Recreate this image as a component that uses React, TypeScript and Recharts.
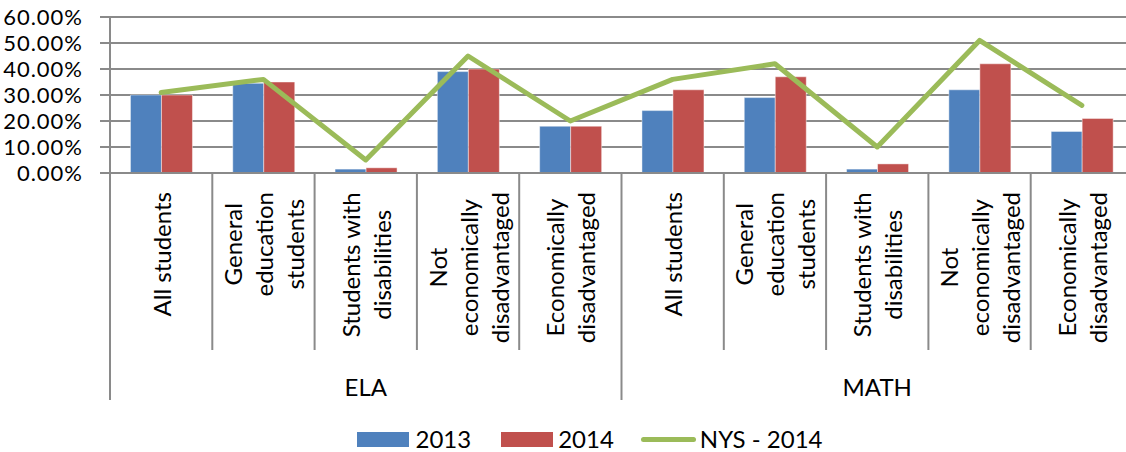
import React from 'react';
import { ComposedChart, Bar, Line, XAxis, YAxis, CartesianGrid, Legend } from 'recharts';

const subjects = ['ELA', 'MATH'];
const groupLabels = [
  ['All students'],
  ['General', 'education', 'students'],
  ['Students with', 'disabilities'],
  ['Not', 'economically', 'disadvantaged'],
  ['Economically', 'disadvantaged'],
];
const values2013 = [30, 34.5, 1.5, 39, 18, 24, 29, 1.5, 32, 16];
const values2014 = [30, 35, 2, 40, 18, 32, 37, 3.5, 42, 21];
const nys2014 = [31, 36, 5, 45, 20, 36, 42, 10, 51, 26];
const yTicks = [0, 10, 20, 30, 40, 50, 60];

const data = subjects.flatMap((s, si) =>
  groupLabels.map((lines, gi) => {
    const i = si * groupLabels.length + gi;
    return {
      key: `${s}|${lines.join(' ')}`,
      subject: s,
      lines,
      y2013: values2013[i],
      y2014: values2014[i],
      nys: nys2014[i],
    };
  })
);

const FONT = 'Lato, "Noto Sans", sans-serif';
const FS = 24;
const GRID = '#8a8a8a';
const BLUE = '#4F81BD';
const RED = '#C0504D';
const GREEN = '#9BBB59';

const CHART_W = 1140;
const CHART_H = 452;
const MARGIN = { top: 17, right: 7, bottom: 0, left: 0 };
const YAXIS_W = 110;
const PLOT_W = CHART_W - MARGIN.left - MARGIN.right - YAXIS_W;

let ctx: CanvasRenderingContext2D | null = null;
function measure(t: string): number {
  if (!ctx) {
    const c = document.createElement('canvas');
    ctx = c.getContext('2d');
  }
  if (!ctx) return t.length * FS * 0.5;
  ctx.font = `${FS}px Lato`;
  return ctx.measureText(t).width;
}

const LINE_H = 31;

function CategoryTick(props: any) {
  const { x, y, index, payload } = props;
  const d = data[index];
  if (!d) return null;
  const band = payload && payload.offset ? payload.offset * 2 : PLOT_W / data.length;
  const left = x - band / 2;
  const right = x + band / 2;
  const n = d.lines.length;
  const maxW = Math.max(...d.lines.map(measure));
  const cy = y + 19 + maxW / 2;
  const groupSize = groupLabels.length;
  const isGroupStart = index % groupSize === 0;
  const isLast = index === data.length - 1;
  const isGroupMid = index % groupSize === Math.floor(groupSize / 2);
  return (
    <g>
      <line
        x1={left}
        x2={left}
        y1={y}
        y2={y + (isGroupStart ? 227 : 177)}
        stroke={GRID}
        strokeWidth={2}
      />
      {isLast && (
        <line x1={right} x2={right} y1={y} y2={y + 227} stroke={GRID} strokeWidth={2} />
      )}
      {d.lines.map((ln: string, i: number) => {
        const lx = x + (i - (n - 1) / 2) * LINE_H;
        return (
          <text
            key={i}
            transform={`translate(${lx},${cy}) rotate(-90)`}
            textAnchor="middle"
            dominantBaseline="central"
            fontFamily={FONT}
            fontSize={FS}
            fill="#000"
          >
            {ln}
          </text>
        );
      })}
      {isGroupMid && (
        <text
          x={x}
          y={y + 213}
          textAnchor="middle"
          dominantBaseline="central"
          fontFamily={FONT}
          fontSize={FS}
          fill="#000"
        >
          {d.subject}
        </text>
      )}
    </g>
  );
}

function LegendContent() {
  const item = { display: 'flex', alignItems: 'center', height: 24 } as React.CSSProperties;
  const txt = { lineHeight: '24px', whiteSpace: 'nowrap' } as React.CSSProperties;
  return (
    <div
      style={{
        display: 'flex',
        justifyContent: 'center',
        alignItems: 'flex-start',
        height: 52,
        boxSizing: 'border-box',
        paddingTop: 27,
        paddingLeft: 40,
        fontFamily: FONT,
        fontSize: FS,
        lineHeight: '24px',
        color: '#000',
        overflow: 'visible',
      }}
    >
      <div style={item}>
        <div style={{ width: 52, height: 15, background: BLUE, marginRight: 6 }} />
        <span style={txt}>2013</span>
      </div>
      <div style={{ ...item, marginLeft: 30 }}>
        <div style={{ width: 52, height: 15, background: RED, marginRight: 5 }} />
        <span style={txt}>2014</span>
      </div>
      <div style={{ ...item, marginLeft: 27 }}>
        <div style={{ width: 55, height: 5, borderRadius: 3, background: GREEN, marginRight: 4 }} />
        <span style={txt}>NYS - 2014</span>
      </div>
    </div>
  );
}

export default function App() {
  return (
    <div
      style={{
        position: 'absolute',
        left: 0,
        top: 0,
        width: 1126,
        height: 452,
        overflow: 'hidden',
        background: '#fff',
      }}
    >
      <ComposedChart
        width={CHART_W}
        height={CHART_H}
        data={data}
        margin={MARGIN}
        barCategoryGap="20%"
        barGap={0}
      >
        <CartesianGrid vertical={false} stroke={GRID} strokeWidth={2} />
        <XAxis
          dataKey="key"
          interval={0}
          height={227}
          tickLine={false}
          tickSize={0}
          tickMargin={0}
          axisLine={{ stroke: GRID, strokeWidth: 2 }}
          tick={<CategoryTick />}
        />
        <YAxis
          width={YAXIS_W}
          domain={[0, 60]}
          ticks={yTicks}
          interval={0}
          tickSize={10}
          tickMargin={17}
          tickLine={{ stroke: GRID, strokeWidth: 2 }}
          axisLine={{ stroke: GRID, strokeWidth: 2 }}
          tickFormatter={(v: number) => `${v.toFixed(2)}%`}
          tick={{ fontFamily: FONT, fontSize: 22, letterSpacing: 1, fill: '#000' }}
        />
        <Legend
          verticalAlign="bottom"
          height={52}
          wrapperStyle={{ left: 0, width: CHART_W, bottom: 0, height: 52 }}
          content={<LegendContent />}
        />
        <Bar dataKey="y2013" name="2013" fill={BLUE} stroke="rgba(255,255,255,0.45)" strokeWidth={1} isAnimationActive={false} />
        <Bar dataKey="y2014" name="2014" fill={RED} stroke="rgba(255,255,255,0.45)" strokeWidth={1} isAnimationActive={false} />
        <Line
          dataKey="nys"
          name="NYS - 2014"
          type="linear"
          stroke={GREEN}
          strokeWidth={5}
          strokeLinecap="round"
          strokeLinejoin="round"
          dot={false}
          activeDot={false}
          isAnimationActive={false}
        />
      </ComposedChart>
    </div>
  );
}
